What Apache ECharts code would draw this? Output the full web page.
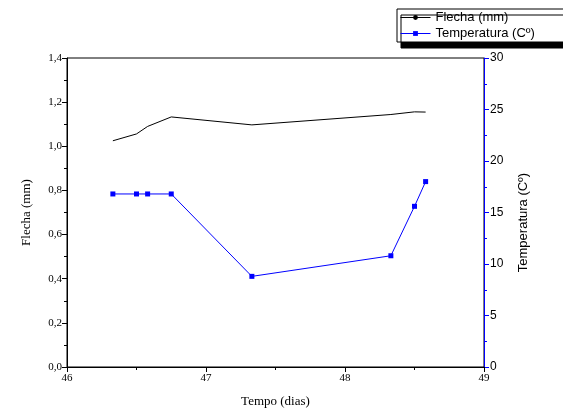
<!DOCTYPE html>
<html><head><meta charset="utf-8">
<script src="https://cdn.jsdelivr.net/npm/echarts@6/dist/echarts.min.js"></script>
<style>html,body{margin:0;padding:0;background:#fff}#c{width:563px;height:416px}</style>
</head><body><div id="c"></div>
<script>
const dias = [46.33, 46.5, 46.58, 46.75, 47.33, 48.33, 48.5, 48.58];
const flecha = [1.025, 1.056, 1.09, 1.133, 1.097, 1.144, 1.156, 1.155];
const temperatura = [16.8, 16.8, 16.8, 16.8, 8.8, 10.8, 15.6, 18.0];
const xTicks = [46, 47, 48, 49];

const chart = echarts.init(document.getElementById('c'));
const serif = '"Liberation Serif", "Times New Roman", serif';
const sans = '"Liberation Sans", Arial, sans-serif';
chart.setOption({
  animation: false,
  grid: {left: 67, right: 79, top: 58, bottom: 49, show: true, borderColor: '#000', borderWidth: 1, backgroundColor: 'transparent'},
  legend: {
    orient: 'vertical', left: 397, top: 9,
    padding: [2, 60, 2, 3], itemGap: 3, itemWidth: 30, itemHeight: 6,
    backgroundColor: '#fff', borderColor: '#000', borderWidth: 1,
    shadowColor: '#000', shadowBlur: 0, shadowOffsetX: 4, shadowOffsetY: 6,
    lineStyle: {width: 1},
    textStyle: {fontFamily: sans, fontSize: 13, color: '#000', padding: [0,0,0,0]},
    data: ['Flecha (mm)', 'Temperatura (C\u00ba)']
  },
  xAxis: {
    type: 'value', min: 46, max: 49, interval: 1,
    name: 'Tempo (dias)', nameLocation: 'middle', nameGap: 28,
    nameTextStyle: {fontFamily: serif, fontSize: 13, color: '#000'},
    axisLine: {lineStyle: {color: '#000'}},
    axisTick: {length: 5, lineStyle: {color: '#000'}},
    minorTick: {show: true, splitNumber: 2, length: 3, lineStyle: {color: '#000'}},
    axisLabel: {fontFamily: serif, fontSize: 11, color: '#000', margin: 6,
      formatter: v => xTicks.includes(v) ? String(v) : ''},
    splitLine: {show: false}
  },
  yAxis: [{
    type: 'value', min: 0, max: 1.4, interval: 0.2,
    name: 'Flecha (mm)', nameLocation: 'middle', nameGap: 34,
    nameTextStyle: {fontFamily: serif, fontSize: 13, color: '#000'},
    axisLine: {show: true, lineStyle: {color: '#000'}},
    axisTick: {show: true, length: 5, lineStyle: {color: '#000'}},
    minorTick: {show: true, splitNumber: 2, length: 3, lineStyle: {color: '#000'}},
    axisLabel: {fontFamily: serif, fontSize: 11, color: '#000', margin: 5,
      formatter: v => v.toFixed(1).replace('.', ',')},
    splitLine: {show: false}
  }, {
    type: 'value', min: 0, max: 30, interval: 5, position: 'right',
    name: 'Temperatura (C\u00ba)', nameLocation: 'middle', nameGap: 33, nameRotate: 90,
    nameTextStyle: {fontFamily: sans, fontSize: 13, color: '#000', padding: [0, 20, 0, 0]},
    axisLine: {show: true, lineStyle: {color: '#0000ff'}},
    axisTick: {show: true, length: 5, lineStyle: {color: '#0000ff'}},
    minorTick: {show: true, splitNumber: 2, length: 3, lineStyle: {color: '#0000ff'}},
    axisLabel: {fontFamily: sans, fontSize: 12, color: '#000', margin: 6},
    splitLine: {show: false}
  }],
  series: [{
    name: 'Flecha (mm)', type: 'line', yAxisIndex: 0,
    data: dias.map((d, i) => [d, flecha[i]]),
    symbol: 'circle', symbolSize: 3, showSymbol: false,
    itemStyle: {color: '#000'}, lineStyle: {color: '#000', width: 1}
  }, {
    name: 'Temperatura (C\u00ba)', type: 'line', yAxisIndex: 1,
    data: dias.map((d, i) => [d, temperatura[i]]),
    symbol: 'rect', symbolSize: 5,
    itemStyle: {color: '#0000ff'}, lineStyle: {color: '#0000ff', width: 1}
  }]
});
</script></body></html>
